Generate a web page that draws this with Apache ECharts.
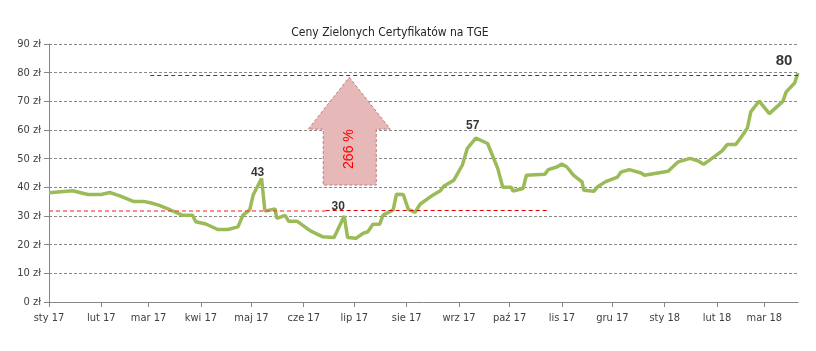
<!DOCTYPE html>
<html>
<head>
<meta charset="utf-8">
<script src="https://cdn.jsdelivr.net/npm/echarts@6/dist/echarts.min.js"></script>
<style>
html,body{margin:0;padding:0;background:#fff;}
#chart{width:816px;height:351px;}
</style>
</head>
<body>
<div id="chart"></div>
<script>
// ---- data ----
const dates = ['2017-01-01','2017-01-15','2017-01-24','2017-02-01','2017-02-06','2017-02-12','2017-02-20','2017-02-26',
 '2017-03-02','2017-03-07','2017-03-14','2017-03-21','2017-03-27','2017-03-29','2017-04-04','2017-04-11','2017-04-17',
 '2017-04-23','2017-04-26','2017-04-30','2017-05-02','2017-05-07','2017-05-09','2017-05-15','2017-05-16','2017-05-21',
 '2017-05-23','2017-05-28','2017-06-05','2017-06-12','2017-06-19','2017-06-25','2017-06-27','2017-07-02','2017-07-06',
 '2017-07-09','2017-07-12','2017-07-16','2017-07-18','2017-07-24','2017-07-26','2017-07-30','2017-08-02','2017-08-06',
 '2017-08-09','2017-08-15','2017-08-21','2017-08-23','2017-08-29','2017-09-03','2017-09-06','2017-09-11','2017-09-18',
 '2017-09-24','2017-09-27','2017-10-02','2017-10-03','2017-10-09','2017-10-11','2017-10-22','2017-10-24','2017-10-29',
 '2017-11-01','2017-11-04','2017-11-08','2017-11-13','2017-11-14','2017-11-20','2017-11-22','2017-11-27','2017-12-04',
 '2017-12-06','2017-12-11','2017-12-18','2017-12-20','2018-01-03','2018-01-09','2018-01-16','2018-01-21','2018-01-24',
 '2018-01-29','2018-02-04','2018-02-07','2018-02-12','2018-02-15','2018-02-19','2018-02-21','2018-02-26','2018-03-04',
 '2018-03-12','2018-03-14','2018-03-19','2018-03-21'];
const prices = [38.1,38.8,37.5,37.5,38.2,37.0,35.1,35.1,
 34.6,33.8,32.1,30.3,30.3,28.0,27.2,25.3,25.3,
 26.2,30.3,32.1,37.3,43.1,31.7,32.5,29.2,30.2,
 28.2,28.2,24.8,22.8,22.5,30.0,22.5,22.2,23.9,
 24.5,27.1,27.1,30.3,32.1,37.6,37.5,32.3,31.3,
 34.1,36.7,38.8,40.4,42.5,47.7,53.6,57.2,55.3,
 46.6,40.0,40.0,38.7,39.6,44.2,44.6,46.2,47.1,
 48.1,47.1,44.2,41.9,39.0,38.6,40.1,42.0,43.6,
 45.3,46.2,45.0,44.2,45.6,48.9,50.1,49.2,48.0,
 50.1,52.7,54.9,54.9,57.2,60.7,66.3,70.1,65.7,
 70.0,73.3,76.4,79.9];
const peakDates = ['2017-05-07','2017-06-25','2017-09-11','2018-03-21'];
const peakValues = [43.1,30.0,57.2,79.9];
const tickDates = ['2017-01-01','2017-02-01','2017-03-01','2017-04-01','2017-05-01','2017-06-01','2017-07-01',
 '2017-08-01','2017-09-01','2017-10-01','2017-11-01','2017-12-01','2018-01-01','2018-02-01','2018-03-01'];
const tickLabels = ['sty 17','lut 17','mar 17','kwi 17','maj 17','cze 17','lip 17','sie 17','wrz 17','paź 17',
 'lis 17','gru 17','sty 18','lut 18','mar 18'];
const baseLevel = 31.9;   // red dashed reference (start level)
const topLevel = 79.1;    // red dashed reference (current level)
const growthText = '266 %';
const titleText = 'Ceny Zielonych Certyfikatów na TGE';

function ts(s){const p=s.split('-').map(Number);return Date.UTC(p[0],p[1]-1,p[2]);}
const tickTs = tickDates.map(ts);

const FONT = "'Liberation Sans Narrow','DejaVu Sans Condensed','Liberation Sans',sans-serif";
const chart = echarts.init(document.getElementById('chart'), null, {renderer:'canvas'});

const peakOffsets = [[-4,2],[-6,-1],[-3,-4],[-14,-3]];
const peakFont = [12,12,12,15];

chart.setOption({
  animation:false,
  backgroundColor:'#fff',
  title:{text:titleText,left:385,textAlign:'center',top:22,
    textStyle:{fontFamily:FONT,fontSize:12,fontWeight:'normal',color:'#262626'}},
  grid:{left:49,right:18,top:44,bottom:49,containLabel:false},
  xAxis:{type:'value',min:ts('2017-01-01'),max:ts('2018-03-21'),
    axisLine:{show:true,lineStyle:{color:'#868686',width:1}},
    axisTick:{show:true,length:5,customValues:tickTs,lineStyle:{color:'#868686'}},
    axisLabel:{customValues:tickTs,margin:11,fontFamily:FONT,fontSize:11,color:'#404040',
      formatter:function(v){const i=tickTs.indexOf(v);return i>=0?tickLabels[i]:'';}},
    splitLine:{show:false}},
  yAxis:{type:'value',min:0,max:90,interval:10,
    axisLine:{show:true,lineStyle:{color:'#868686',width:1}},
    axisTick:{show:true,length:5,lineStyle:{color:'#868686'}},
    axisLabel:{margin:8,fontFamily:FONT,fontSize:11,color:'#404040',formatter:function(v){return v+' zł';}},
    splitLine:{show:true,lineStyle:{color:'#8a8a8a',type:[3,2],width:1}}},
  series:[
    {type:'line',data:dates.map((d,i)=>[ts(d),prices[i]]),showSymbol:false,symbol:'none',
     lineStyle:{color:'#9bbb59',width:3.5},itemStyle:{color:'#9bbb59'},z:3,
     markLine:{silent:true,symbol:['none','none'],label:{show:false},
       data:[
        [{coord:[ts('2017-01-01'),baseLevel],lineStyle:{color:'rgba(255,60,60,0.6)',type:[4,3],width:2}},
         {coord:[ts('2017-06-14'),baseLevel]}],
        [{coord:[ts('2017-06-14'),baseLevel],lineStyle:{color:'#e00000',type:[4,3],width:1}},
         {coord:[ts('2017-10-24'),baseLevel]}],
        [{coord:[ts('2017-03-02'),topLevel],lineStyle:{color:'#e00000',type:[4,3],width:1}},
         {coord:[ts('2018-03-21'),topLevel]}]
       ]}},
    {type:'scatter',data:peakDates.map((d,i)=>({value:[ts(d),peakValues[i]],
       label:{show:true,position:'top',offset:peakOffsets[i],fontSize:peakFont[i],distance:2,color:'#000'}})),
     symbolSize:0,z:5,
     label:{show:true,color:'#000',fontWeight:'bold',fontFamily:"'Liberation Sans',Arial,sans-serif",
       formatter:function(p){return String(Math.round(p.value[1]));}}}
  ]
});

// growth arrow annotation placed through the chart's scales
const tip = chart.convertToPixel({gridIndex:0},[ts('2017-06-28'),78.4]);
const head = chart.convertToPixel({gridIndex:0},[ts('2017-06-28'),60.3]);
const bot = chart.convertToPixel({gridIndex:0},[ts('2017-06-28'),40.8]);
const cx = tip[0];
chart.setOption({graphic:[
  {type:'polygon',z:10,shape:{points:[[cx,tip[1]],[cx+41,head[1]],[cx+27,head[1]],[cx+27,bot[1]],
     [cx-26,bot[1]],[cx-26,head[1]],[cx-41,head[1]]]},
   style:{fill:'#e6b9b8',stroke:'#c07a7a',lineWidth:1,lineDash:[3,2]}},
  {type:'text',z:11,x:cx,y:(head[1]+bot[1])/2-8,rotation:Math.PI/2,
   style:{text:growthText,fill:'#ff0000',font:"14px 'Liberation Sans',Arial,sans-serif",
     textAlign:'center',textVerticalAlign:'middle'}}
]});
</script>
</body>
</html>
